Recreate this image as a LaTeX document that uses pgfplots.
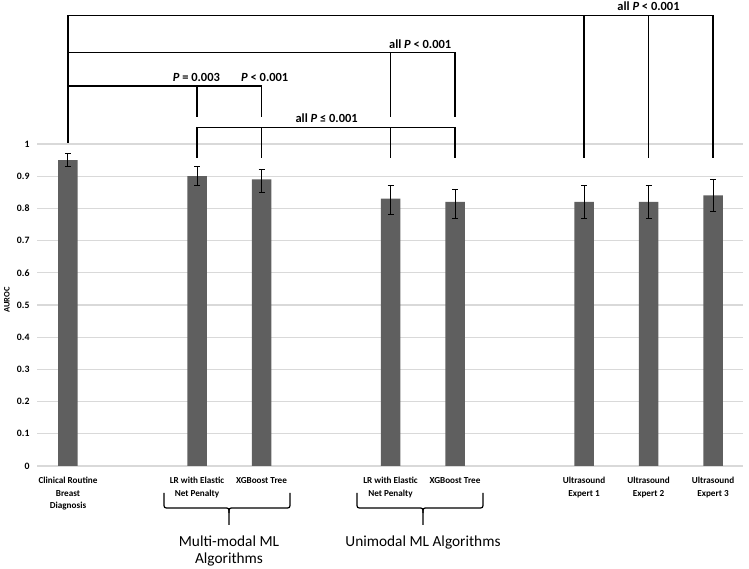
\documentclass[border=0pt]{standalone}
\usepackage{fontspec}
\setmainfont{Carlito}
\usepackage{pgfplots}
\usepackage{pgfplotstable}
\pgfplotsset{compat=1.18}

\definecolor{barfill}{HTML}{5F5F5F}
\definecolor{gridgray}{HTML}{D9D9D9}

% AUROC with error bar extents
\pgfplotstableread{
x   y     ep    em
0   0.95  0.02  0.02
2   0.90  0.03  0.03
3   0.89  0.03  0.04
5   0.83  0.04  0.05
6   0.82  0.04  0.05
8   0.82  0.05  0.05
9   0.82  0.05  0.05
10  0.84  0.05  0.05
}\auroc

\begin{document}
\begin{tikzpicture}
\useasboundingbox (0,0) rectangle (749bp,569bp);
\begin{axis}[
    at={(37bp,103bp)}, anchor=south west,
    scale only axis,
    width=706bp, height=466bp,
    xmin=-0.4806, xmax=10.465,
    ymin=0, ymax=1.447,
    ytick={0,0.1,0.2,0.3,0.4,0.5,0.6,0.7,0.8,0.9,1},
    ymajorgrids,
    grid style={gridgray, line width=1.2bp},
    axis line style={draw=none},
    major tick length=0pt,
    /pgf/number format/assume math mode=true,
    yticklabel style={font=\fontsize{9.8}{11}\selectfont\bfseries, anchor=east, xshift=-4bp},
    xtick={0,2,3,5,6,8,9,10},
    xticklabels={Clinical Routine\\Breast\\Diagnosis,
                 LR with Elastic\\Net Penalty, XGBoost Tree,
                 LR with Elastic\\Net Penalty, XGBoost Tree,
                 Ultrasound\\Expert 1, Ultrasound\\Expert 2, Ultrasound\\Expert 3},
    xticklabel style={font=\fontsize{9.2}{12.3}\selectfont\bfseries, align=center, anchor=north, yshift=-8bp},
    clip=false,
]
\addplot[ybar, bar width=19.5bp, fill=barfill, draw=none,
    error bars/.cd, y dir=both, y explicit,
    error bar style={black, line width=1bp},
    error mark=-,
    error mark options={rotate=90, black, line width=1bp, mark size=3bp}]
    table[x=x, y=y, y error plus=ep, y error minus=em] {\auroc};

% significance brackets
\begin{scope}[line width=1.3bp]
\draw (axis cs:0,1.003) -- (axis cs:0,1.398) -- (axis cs:10,1.398) -- (axis cs:10,0.957);
\draw (axis cs:8,1.398) -- (axis cs:8,0.957);
\draw (axis cs:9,1.398) -- (axis cs:9,0.957);
\draw (axis cs:0,1.285) -- (axis cs:6,1.285) -- (axis cs:6,1.084);
\draw (axis cs:5,1.285) -- (axis cs:5,1.084);
\draw (axis cs:0,1.180) -- (axis cs:3,1.180) -- (axis cs:3,1.084);
\draw (axis cs:2,1.180) -- (axis cs:2,1.084);
\draw (axis cs:2,0.957) -- (axis cs:2,1.052) -- (axis cs:6,1.052) -- (axis cs:6,0.957);
\draw (axis cs:3,1.052) -- (axis cs:3,0.957);
\draw (axis cs:5,1.052) -- (axis cs:5,0.957);
\end{scope}

\begin{scope}[font=\fontsize{12.5}{14}\selectfont\bfseries]
\node at (axis cs:9,1.428) {all \textit{P} < 0.001};
\node at (axis cs:5.46,1.311) {all \textit{P} < 0.001};
\node at (axis cs:1.99,1.206) {\textit{P} = 0.003};
\node at (axis cs:3.05,1.206) {\textit{P} < 0.001};
\node at (axis cs:4.01,1.081) {all \textit{P} ≤ 0.001};
\end{scope}
\end{axis}

% annotations in image pixel frame
\begin{scope}[x=1bp, y=-1bp, yshift=569bp]
\node[rotate=90, font=\fontsize{8.5}{10}\selectfont\bfseries] at (7,300) {AUROC};
\begin{scope}[line width=1.2bp]
\draw (164,493) -- (164,503) .. controls (164,508) .. (169,508) -- (224,508)
      .. controls (229,508) .. (229,513) -- (229,525);
\draw (290,493) -- (290,503) .. controls (290,508) .. (285,508) -- (234,508)
      .. controls (229,508) .. (229,513);
\draw (357,493) -- (357,503) .. controls (357,508) .. (362,508) -- (418,508)
      .. controls (423,508) .. (423,513) -- (423,525);
\draw (483,493) -- (483,503) .. controls (483,508) .. (478,508) -- (428,508)
      .. controls (423,508) .. (423,513);
\end{scope}
\begin{scope}[font=\fontsize{15.4}{17.7}\selectfont]
\node[anchor=base] at (229,546.7) {Multi-modal ML};
\node[anchor=base] at (229,564) {Algorithms};
\node[anchor=base] at (423,546.7) {Unimodal ML Algorithms};
\end{scope}
\end{scope}
\end{tikzpicture}
\end{document}
